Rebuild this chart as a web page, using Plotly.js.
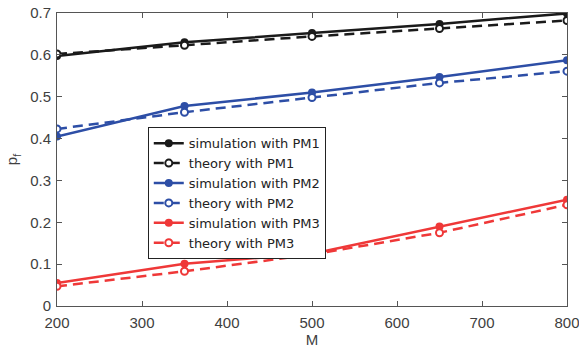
<!DOCTYPE html>
<html><head><meta charset="utf-8">
<script src="https://cdn.plot.ly/plotly-3.0.1.min.js"></script>
<style>html,body{margin:0;padding:0;background:#fff}#chart{width:579px;height:353px}</style>
</head><body><div id="chart"></div>
<script>
const M = [200, 350, 500, 650, 800];
const simPM1 = [0.597, 0.630, 0.652, 0.674, 0.699];
const theoPM1 = [0.602, 0.623, 0.644, 0.663, 0.682];
const simPM2 = [0.405, 0.478, 0.510, 0.547, 0.587];
const theoPM2 = [0.423, 0.463, 0.498, 0.533, 0.561];
const simPM3 = [0.055, 0.101, 0.125, 0.190, 0.254];
const theoPM3 = [0.047, 0.083, 0.123, 0.175, 0.242];
const names = ['simulation with PM1','theory with PM1','simulation with PM2','theory with PM2','simulation with PM3','theory with PM3'];
const xTicks = [200, 300, 400, 500, 600, 700, 800];
const yTicks = [0, 0.1, 0.2, 0.3, 0.4, 0.5, 0.6, 0.7];

const black = '#1a1a1a', blue = '#2d4ea6', red = '#ef3838';
function sim(y, name, c) {
  return {x: M, y: y, name: name, type: 'scatter', mode: 'lines+markers',
    line: {color: c, width: 2.5}, marker: {color: c, size: 8, symbol: 'circle'}};
}
function theo(y, name, c) {
  return {x: M, y: y, name: name, type: 'scatter', mode: 'lines+markers',
    line: {color: c, width: 2.5, dash: '10px,6px'},
    marker: {color: 'white', size: 7, symbol: 'circle', line: {color: c, width: 2}}};
}
const data = [
  sim(simPM1, names[0], black), theo(theoPM1, names[1], black),
  sim(simPM2, names[2], blue), theo(theoPM2, names[3], blue),
  sim(simPM3, names[4], red), theo(theoPM3, names[5], red)
];
const axisCommon = {showgrid: false, zeroline: false, showline: true, mirror: 'ticks',
  linecolor: '#555', linewidth: 1, ticks: 'inside', ticklen: 5, tickcolor: '#555',
  ticklabeloverflow: 'allow',
  tickfont: {family: 'Liberation Sans, Arial', size: 15, color: '#404040'}};
const layout = {
  width: 579, height: 353,
  margin: {l: 57, r: 12, t: 13, b: 47},
  paper_bgcolor: 'white', plot_bgcolor: 'white',
  font: {family: 'Liberation Sans, Arial', color: '#222'},
  xaxis: Object.assign({}, axisCommon, {range: [200, 800], tickvals: xTicks,
    ticklabelstandoff: 3,
    title: {text: 'M', font: {size: 15, color: '#404040'}, standoff: 3}}),
  yaxis: Object.assign({}, axisCommon, {range: [0, 0.7], tickvals: yTicks,
    ticktext: yTicks.map(v => v === 0 ? '0' : v.toFixed(1)),
    ticklabelstandoff: 2,
    title: {text: 'p<sub>f</sub>', font: {size: 15, color: '#404040'}, standoff: 8}}),
  legend: {x: 0.178, y: 0.61, xanchor: 'left', yanchor: 'top',
    bgcolor: 'white', bordercolor: '#222', borderwidth: 1,
    font: {family: 'DejaVu Sans', size: 13, color: '#222'},
    itemwidth: 30, tracegroupgap: 0},
  showlegend: true
};
Plotly.newPlot('chart', data, layout, {staticPlot: true, displayModeBar: false});
</script></body></html>
